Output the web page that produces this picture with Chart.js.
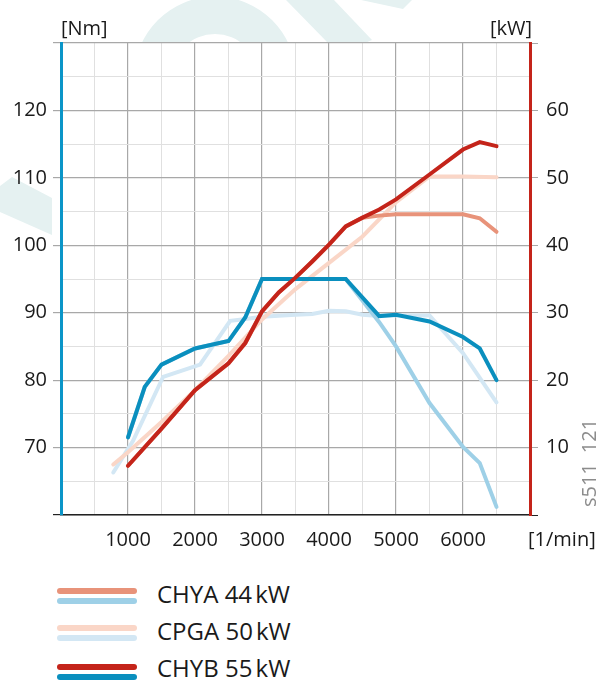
<!DOCTYPE html>
<html>
<head>
<meta charset="utf-8">
<script src="https://cdn.jsdelivr.net/npm/chart.js@4"></script>
<style>
  body { margin: 0; background: #fff; font-family: 'Open Sans', sans-serif; color: #1a1a1a; }
  #wrap { position: relative; width: 599px; height: 680px; overflow: hidden; }
  #c { position: absolute; left: 0; top: 0; }
  .sw { position: absolute; left: 57px; width: 80px; height: 6px; border-radius: 3px; }
  .lbl { position: absolute; left: 157px; font-size: 24px; line-height: 30px; white-space: nowrap; }
</style>
</head>
<body>
<div id="wrap">
  <canvas id="c" width="599" height="560"></canvas>
  <div class="sw" style="top:588px;background:#e8937a"></div>
  <div class="sw" style="top:598px;background:#9ed0e7"></div>
  <div class="lbl" style="top:579px">CHYA 44&#8239;kW</div>
  <div class="sw" style="top:625px;background:#fad6c7"></div>
  <div class="sw" style="top:635px;background:#d3e7f4"></div>
  <div class="lbl" style="top:616px">CPGA 50&#8239;kW</div>
  <div class="sw" style="top:664px;background:#c4241a"></div>
  <div class="sw" style="top:674px;background:#0a8fbe"></div>
  <div class="lbl" style="top:653px">CHYB 55&#8239;kW</div>
</div>
<script>
// torque [Nm], left axis
const rpmChybTorque = [1000, 1250, 1500, 2000, 2500, 2750, 3000, 4250, 4750, 5000, 5500, 6000, 6250, 6500];
const chybTorque    = [71.5, 79, 82.3, 84.7, 85.8, 89.3, 95, 95, 89.5, 89.7, 88.7, 86.4, 84.7, 80];

const rpmChyaTorque = [1000, 1250, 1500, 2000, 2500, 2750, 3000, 4250, 4750, 5000, 5500, 6000, 6250, 6500];
const chyaTorque    = [71.5, 79, 82.3, 84.7, 85.8, 89.3, 95, 95, 88.6, 85, 76.6, 70.1, 67.7, 61.2];

const rpmCpgaTorque = [780, 1075, 1525, 2075, 2525, 2700, 3000, 3500, 3750, 4000, 4250, 4500, 4750, 5000, 5500, 6000, 6500];
const cpgaTorque    = [66.3, 71, 80.5, 82.3, 88.8, 89, 89.4, 89.7, 89.8, 90.3, 90.2, 89.7, 89.5, 89.6, 89.6, 84, 76.7];

// power [kW], right axis
const rpmChybPower = [1000, 1500, 2000, 2500, 2750, 3000, 3250, 3500, 3750, 4000, 4250, 4500, 4750, 5000, 5500, 6000, 6250, 6500];
const chybPower    = [7.3, 12.8, 18.5, 22.5, 25.5, 30.2, 33, 35.2, 37.6, 40.1, 42.8, 44.1, 45.3, 46.8, 50.5, 54.2, 55.3, 54.7];

const rpmChyaPower = [1000, 1500, 2000, 2500, 2750, 3000, 3250, 3500, 3750, 4000, 4250, 4500, 4750, 5000, 5500, 6000, 6250, 6500];
const chyaPower    = [7.3, 12.8, 18.5, 22.5, 25.5, 30.2, 33, 35.2, 37.6, 40.1, 42.8, 44.1, 44.4, 44.6, 44.6, 44.6, 44, 42];

const rpmCpgaPower = [780, 1000, 1500, 2000, 2500, 3000, 3500, 4000, 4500, 5000, 5500, 6000, 6500];
const cpgaPower    = [7.5, 9.3, 13.8, 18.5, 23.6, 29, 33.5, 37.4, 41.3, 46.4, 50.2, 50.2, 50.1];

const rpmLabels = [1000, 2000, 3000, 4000, 5000, 6000];
const nmLabels = [70, 80, 90, 100, 110, 120];
const kwLabels = [10, 20, 30, 40, 50, 60];

const pts = (xs, ys) => xs.map((x, i) => ({x: x, y: ys[i]}));

const tickFont = {family: 'Open Sans', size: 20};
const major = '#a8a8a8', minor = '#e0e0e0';

function line(label, xs, ys, axis, color) {
    return {
        label: label,
        data: pts(xs, ys),
        yAxisID: axis,
        borderColor: color,
        borderWidth: 4,
        borderCapStyle: 'round',
        pointRadius: 0,
        tension: 0,
        fill: false
    };
}

const decor = {
    id: 'decor',
    beforeDraw(chart) {
        const c = chart.ctx, a = chart.chartArea;
        c.save();
        c.fillStyle = '#e5f1f1';
        c.beginPath();
        c.arc(215, 77.5, 81, 0, 2 * Math.PI);
        c.arc(215, 77.5, 43.5, 0, 2 * Math.PI, true);
        c.fill();
        const polys = [
            [[286, 0], [334, 0], [372, 40], [365, 43], [328, 43]],
            [[361, 0], [412, 0], [403, 9]],
            [[0, 186], [12, 177], [52, 198], [52, 235], [0, 212]]
        ];
        polys.forEach(p => {
            c.beginPath();
            p.forEach((q, i) => i ? c.lineTo(q[0], q[1]) : c.moveTo(q[0], q[1]));
            c.closePath();
            c.fill();
        });
        c.fillStyle = '#fff';
        c.fillRect(a.left, a.top, a.right - a.left, a.bottom - a.top);
        c.restore();
    },
    afterDraw(chart) {
        const c = chart.ctx;
        c.save();
        c.font = '20px "Open Sans"';
        c.fillStyle = '#1a1a1a';
        c.textBaseline = 'middle';
        c.textAlign = 'left';
        c.fillText('[Nm]', 61, 29);
        c.fillText('[1/min]', 528, 540);
        c.textAlign = 'right';
        c.fillText('[kW]', 532, 29);
        c.translate(590, 463);
        c.rotate(-Math.PI / 2);
        c.textAlign = 'center';
        c.fillStyle = '#8c8c8c';
        c.fillText('s511\u2002121', 0, 0);
        c.restore();
    }
};

new Chart(document.getElementById('c'), {
    type: 'line',
    data: {
        datasets: [
            line('CHYB 55kW power', rpmChybPower, chybPower, 'y1', '#c4241a'),
            line('CHYB 55kW torque', rpmChybTorque, chybTorque, 'y', '#0a8fbe'),
            line('CHYA 44kW power', rpmChyaPower, chyaPower, 'y1', '#e8937a'),
            line('CHYA 44kW torque', rpmChyaTorque, chyaTorque, 'y', '#9ed0e7'),
            line('CPGA 50kW power', rpmCpgaPower, cpgaPower, 'y1', '#fad6c7'),
            line('CPGA 50kW torque', rpmCpgaTorque, cpgaTorque, 'y', '#d3e7f4')
        ]
    },
    options: {
        responsive: false,
        animation: false,
        layout: {padding: {top: 43, left: 0, right: 0, bottom: 0}},
        plugins: {legend: {display: false}, tooltip: {enabled: false}},
        scales: {
            x: {
                type: 'linear', min: 0, max: 7000,
                afterFit(s) { s.height = 45; },
                ticks: {
                    stepSize: 500, autoSkip: false, maxRotation: 0, padding: 13,
                    font: tickFont, color: '#1a1a1a',
                    callback: v => rpmLabels.includes(v) ? String(v) : ''
                },
                grid: {
                    color: ctx => ctx.tick.value % 1000 === 0 ? major : minor,
                    lineWidth: ctx => ctx.tick.value % 1000 === 0 ? 1.2 : 1,
                    drawTicks: false
                },
                border: {color: '#222', width: 1.5}
            },
            y: {
                position: 'left', min: 60, max: 130,
                afterFit(s) { s.width = 61; },
                ticks: {
                    stepSize: 5, autoSkip: false, padding: 6,
                    font: tickFont, color: '#1a1a1a',
                    callback: v => nmLabels.includes(v) ? String(v) : ''
                },
                grid: {
                    color: ctx => ctx.tick.value % 10 === 0 ? major : minor,
                    lineWidth: ctx => ctx.tick.value % 10 === 0 ? 1.2 : 1,
                    tickLength: 8,
                    tickColor: ctx => ctx.tick.value === 60 ? '#222' : (ctx.tick.value % 10 === 0 ? major : 'rgba(0,0,0,0)')
                },
                border: {color: '#0a95c8', width: 3}
            },
            y1: {
                position: 'right', min: 0, max: 70,
                afterFit(s) { s.width = 69; },
                ticks: {
                    stepSize: 10, autoSkip: false, padding: 8,
                    font: tickFont, color: '#1a1a1a',
                    callback: v => kwLabels.includes(v) ? String(v) : ''
                },
                grid: {
                    drawOnChartArea: false,
                    tickLength: 8,
                    tickColor: ctx => ctx.tick.value === 0 ? '#222' : major
                },
                border: {color: '#c4241a', width: 3}
            }
        }
    },
    plugins: [decor]
});
</script>
</body>
</html>
